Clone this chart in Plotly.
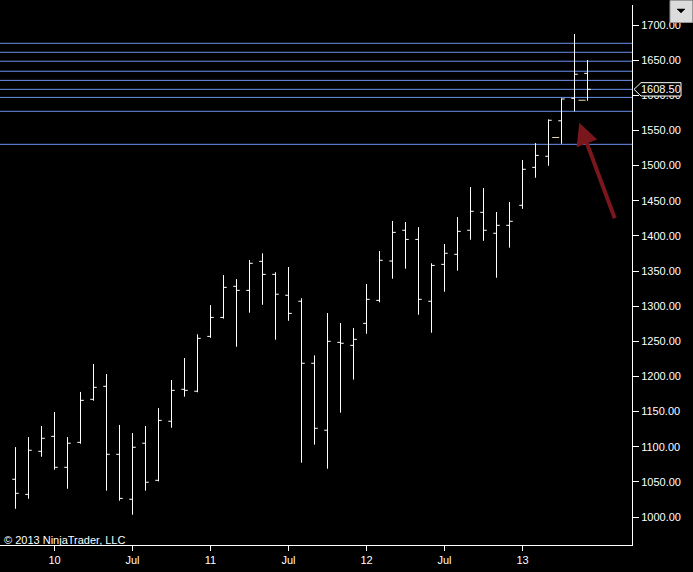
import plotly.graph_objects as go

# monthly bars, Oct 2009 .. Jun 2013
months = ["2009-10", "2009-11", "2009-12", "2010-01", "2010-02", "2010-03", "2010-04",
          "2010-05", "2010-06", "2010-07", "2010-08", "2010-09", "2010-10", "2010-11",
          "2010-12", "2011-01", "2011-02", "2011-03", "2011-04", "2011-05", "2011-06",
          "2011-07", "2011-08", "2011-09", "2011-10", "2011-11", "2011-12", "2012-01",
          "2012-02", "2012-03", "2012-04", "2012-05", "2012-06", "2012-07", "2012-08",
          "2012-09", "2012-10", "2012-11", "2012-12", "2013-01", "2013-02", "2013-03",
          "2013-04", "2013-05", "2013-06"]
opens = [1053.75, 1032.25, 1093.5, 1114.75, 1070.75, 1106.25, 1167.5, 1186.0, 1089.25,
         1025.25, 1105.0, 1052.25, 1136.25, 1181.75, 1179.0, 1257.0, 1284.0, 1328.25,
         1322.5, 1363.75, 1345.25, 1315.5, 1307.0, 1218.75, 1123.5, 1248.5, 1244.25,
         1275.5, 1308.25, 1364.25, 1408.0, 1395.0, 1307.0, 1359.5, 1373.75, 1408.0,
         1433.5, 1403.75, 1415.0, 1443.5, 1497.5, 1513.25, 1563.75, 1595.75, 1631.25]
highs = [1099.5, 1113.75, 1129.5, 1149.5, 1113.75, 1178.0, 1217.75, 1203.5, 1131.0,
         1119.5, 1129.5, 1155.0, 1195.0, 1226.25, 1260.0, 1301.5, 1344.25, 1338.5,
         1365.75, 1375.25, 1348.25, 1355.75, 1311.25, 1230.0, 1290.25, 1276.0, 1269.0,
         1331.5, 1378.5, 1421.25, 1419.75, 1412.5, 1361.0, 1388.5, 1426.75, 1469.5,
         1468.0, 1434.0, 1448.25, 1508.0, 1532.0, 1565.75, 1595.75, 1687.25, 1650.25]
lows = [1011.75, 1026.0, 1085.75, 1067.25, 1040.25, 1104.25, 1165.5, 1037.5, 1023.25,
        1003.25, 1037.5, 1050.75, 1127.0, 1171.25, 1177.5, 1255.0, 1282.25, 1242.25,
        1290.75, 1302.0, 1252.25, 1279.25, 1077.25, 1103.0, 1068.75, 1148.5, 1195.5,
        1260.75, 1305.5, 1339.0, 1353.25, 1287.75, 1262.25, 1320.5, 1350.5, 1394.5,
        1393.0, 1340.5, 1383.25, 1438.5, 1482.75, 1499.75, 1531.0, 1577.25, 1592.25]
closes = [1033.75, 1095.0, 1112.0, 1070.75, 1105.0, 1166.0, 1184.5, 1089.25, 1026.5,
          1099.25, 1049.5, 1137.5, 1180.25, 1180.25, 1254.25, 1284.0, 1326.75, 1322.5,
          1361.0, 1345.25, 1317.0, 1289.75, 1218.75, 1126.25, 1250.0, 1247.25, 1252.75,
          1309.75, 1365.25, 1405.0, 1395.0, 1309.75, 1358.0, 1375.25, 1406.5, 1435.0,
          1408.0, 1415.0, 1420.75, 1494.75, 1514.5, 1564.5, 1594.75, 1630.0, 1608.5]

# horizontal price levels drawn across the chart
levels = [1674.0, 1661.25, 1648.5, 1634.25, 1621.25, 1608.5, 1597.0, 1577.25, 1530.25]

# small light dashes between bars
dash_x = [41.55, 43.58]
dash_y = [1540.0, 1593.0]

last_price = 1608.5

x = list(range(len(months)))
tickvals, ticktext = [], []
for i, m in enumerate(months):
    yr, mo = m.split("-")
    if mo == "01":
        tickvals.append(i)
        ticktext.append(yr[2:])
    elif mo == "07":
        tickvals.append(i)
        ticktext.append("Jul")

FONT = "Liberation Sans, Arial, sans-serif"
W_PLOT = 632.0  # px width of plot area
H_PLOT = 540.0  # px height of plot area (top 5 .. 545)

fig = go.Figure()

for lv in levels:
    fig.add_hline(y=lv, line=dict(color="#6A90EC", width=1), layer="below")

fig.add_trace(go.Ohlc(
    x=x, open=opens, high=highs, low=lows, close=closes,
    increasing=dict(line=dict(color="white", width=1)),
    decreasing=dict(line=dict(color="white", width=1)),
    tickwidth=0.25,
    hoverinfo="skip",
    showlegend=False))

fig.add_trace(go.Scatter(
    x=dash_x, y=dash_y, mode="markers",
    marker=dict(symbol="line-ew", size=5, line=dict(color="#EADBB2", width=1)),
    showlegend=False, hoverinfo="skip"))

# red arrow
fig.add_annotation(x=(579.3 - 15.5) / 13, y=1561, xref="x", yref="y", text="",
                   showarrow=True, ax=36, ay=97, arrowcolor="#7A171C",
                   arrowwidth=4, arrowhead=2, arrowsize=1.1, standoff=0)

# last price marker on the axis
px = lambda p: p / W_PLOT
py = lambda p: (545 - p) / H_PLOT
fig.add_shape(type="path", xref="paper", yref="y",
              path=f"M {px(634)} {last_price} L {px(641)} {last_price + 9.5} "
                   f"L {px(681)} {last_price + 9.5} L {px(681)} {last_price - 9.5} "
                   f"L {px(641)} {last_price - 9.5} Z",
              fillcolor="black", line=dict(color="white", width=1), layer="above")
fig.add_annotation(x=px(661), y=last_price, xref="paper", yref="y",
                   xanchor="center", yanchor="middle",
                   text=f"{last_price:.2f}", showarrow=False,
                   font=dict(family=FONT, size=11, color="white"))

# dropdown button top right
fig.add_shape(type="rect", xref="paper", yref="paper",
              x0=px(670), x1=px(692.5), y0=py(22.5), y1=py(0.5),
              fillcolor="#DCDCDC", line=dict(color="#9A9A9A", width=1), layer="above")
fig.add_shape(type="path", xref="paper", yref="paper",
              path=f"M {px(677)} {py(9)} L {px(685)} {py(9)} L {px(681)} {py(13)} Z",
              fillcolor="black", line=dict(color="black", width=0.5), layer="above")

fig.add_annotation(x=0.003, y=py(539.5), xref="paper", yref="paper",
                   text="© 2013 NinjaTrader, LLC", showarrow=False,
                   xanchor="left", yanchor="middle",
                   font=dict(family=FONT, size=11, color="white"))

fig.update_xaxes(
    range=[-15.5 / 13, (W_PLOT - 15.5) / 13],
    tickvals=tickvals, ticktext=ticktext,
    showline=True, linecolor="white", linewidth=1,
    ticks="outside", ticklen=5, tickcolor="white",
    tickfont=dict(family=FONT, size=11, color="white"),
    showgrid=False, zeroline=False,
    rangeslider_visible=False, automargin=False)

fig.update_yaxes(
    side="right",
    range=[960.2, 1728.5],
    dtick=50, tickformat=".2f",
    showline=True, linecolor="white", linewidth=1,
    ticks="outside", ticklen=6, tickcolor="white",
    tickfont=dict(family=FONT, size=11, color="white"),
    showgrid=False, zeroline=False, automargin=False)

fig.update_layout(
    width=693, height=572,
    margin=dict(l=0, r=61, t=5, b=27),
    paper_bgcolor="black", plot_bgcolor="black",
    showlegend=False)

fig.write_html("out.html", config={"displayModeBar": False},
               post_script="document.body.style.margin='0';")
